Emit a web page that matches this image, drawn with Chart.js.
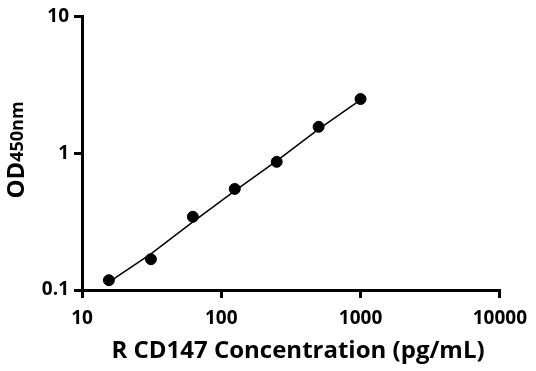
<!DOCTYPE html>
<html>
<head>
<meta charset="utf-8">
<script src="https://cdn.jsdelivr.net/npm/chart.js@4"></script>
<style>
  html, body { margin: 0; padding: 0; background: #fff; }
  #wrap { width: 536px; height: 371px; position: relative; }
</style>
</head>
<body>
<div id="wrap"><canvas id="chart"></canvas></div>
<script>
/* ── Data ── */
const concentrations = [15.6, 31.25, 62.5, 125, 250, 500, 1000];
const odValues = [0.118, 0.168, 0.343, 0.548, 0.865, 1.56, 2.49];
const fitValues = [0.114, 0.184, 0.315, 0.53, 0.88, 1.5, 2.45];
const xTicks = [10, 100, 1000, 10000];
const yTicks = [0.1, 1, 10];

const FONT = "'Open Sans', 'DejaVu Sans', sans-serif";

/* ── Axis titles (y one has a subscript) ── */
const axisTitles = {
  id: "axisTitles",
  afterDraw(chart) {
    const ctx = chart.ctx;
    ctx.save();
    ctx.fillStyle = "#000";
    ctx.textBaseline = "middle";

    // x title
    ctx.font = "bold 24px " + FONT;
    ctx.textAlign = "center";
    ctx.fillText("R CD147 Concentration (pg/mL)", 298, 351);

    // y title
    ctx.textAlign = "left";
    ctx.translate(16, 150);
    ctx.rotate(-Math.PI / 2);
    const w1 = ctx.measureText("OD").width;
    ctx.font = "bold 18px " + FONT;
    const w2 = ctx.measureText("450nm").width;
    const x = -(w1 + w2) / 2;
    ctx.font = "bold 24px " + FONT;
    ctx.fillText("OD", x, 1);
    ctx.font = "bold 18px " + FONT;
    ctx.fillText("450nm", x + w1, 2);
    ctx.restore();
  }
};

const axisCommon = {
  type: "logarithmic",
  border: { display: true, color: "#000", width: 3 },
  grid: { display: true, drawOnChartArea: false, drawTicks: true, tickLength: 8, color: "#000", lineWidth: 3 },
  ticks: {
    color: "#000",
    font: { family: FONT, size: 19, weight: "bold" },
    callback: v => String(v)
  }
};

new Chart(document.getElementById("chart"), {
  type: "scatter",
  data: {
    datasets: [
      {
        label: "fit",
        data: concentrations.map((c, i) => ({ x: c, y: fitValues[i] })),
        showLine: true,
        borderColor: "#000",
        borderWidth: 1.5,
        pointRadius: 0,
        tension: 0
      },
      {
        label: "OD",
        data: concentrations.map((c, i) => ({ x: c, y: odValues[i] })),
        backgroundColor: "#000",
        borderColor: "#000",
        pointRadius: 5.5
      }
    ]
  },
  options: {
    responsive: true,
    maintainAspectRatio: false,
    animation: false,
    layout: { padding: { top: 13, right: 34, left: 0, bottom: 0 } },
    plugins: { legend: { display: false }, tooltip: { enabled: false } },
    scales: {
      x: Object.assign({}, axisCommon, {
        min: 10, max: 10000,
        afterBuildTicks: s => { s.ticks = xTicks.map(v => ({ value: v })); },
        afterFit: s => { s.height = 81; },
        ticks: Object.assign({}, axisCommon.ticks, { padding: 9 })
      }),
      y: Object.assign({}, axisCommon, {
        min: 0.1, max: 10,
        afterBuildTicks: s => { s.ticks = yTicks.map(v => ({ value: v })); },
        afterFit: s => { s.width = 82; },
        ticks: Object.assign({}, axisCommon.ticks, { padding: 5 })
      })
    }
  },
  plugins: [axisTitles]
});
</script>
</body>
</html>
